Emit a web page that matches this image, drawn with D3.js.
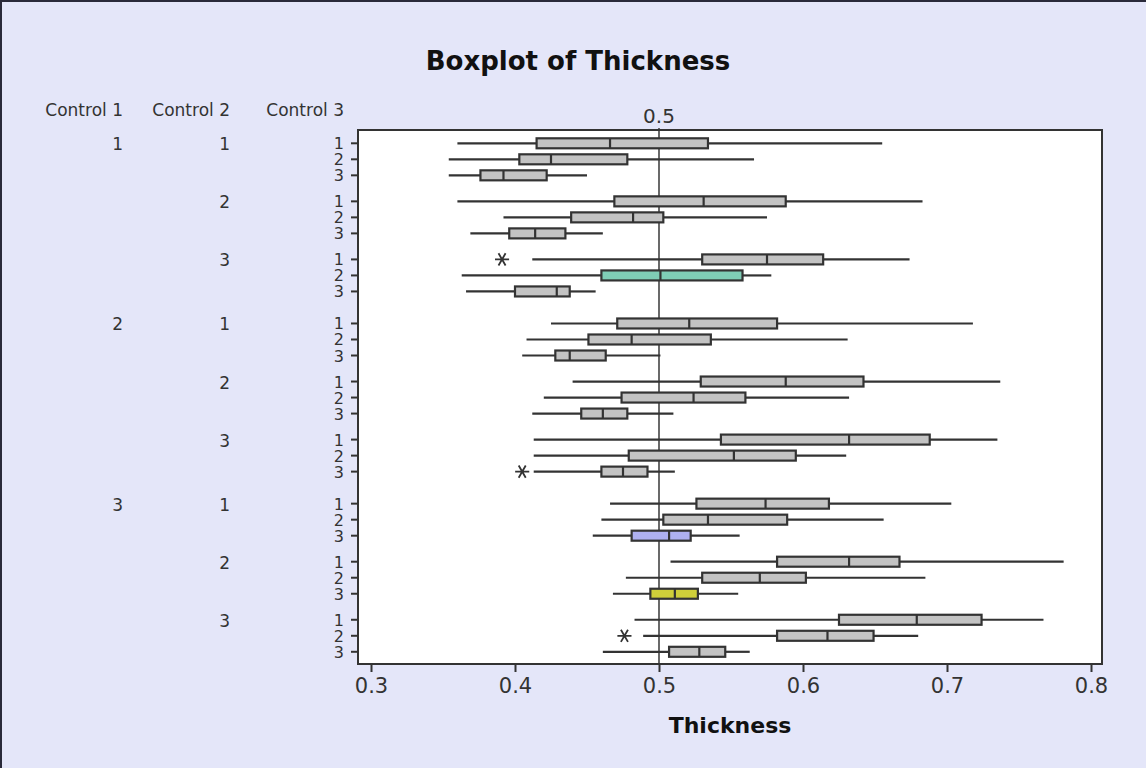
<!DOCTYPE html>
<html>
<head>
<meta charset="utf-8">
<script src="https://cdn.jsdelivr.net/npm/d3@7"></script>
<style>
  html, body { margin: 0; padding: 0; background: #e4e6f9; }
  svg { display: block; font-family: "DejaVu Sans", Verdana, sans-serif; }
</style>
</head>
<body>
<svg id="chart" width="1146" height="768"></svg>
<script>
// factor levels
var control1Levels = ['1', '2', '3'];
var control2Levels = ['1', '2', '3'];
var control3Levels = ['1', '2', '3'];
var xTicks = [0.3, 0.4, 0.5, 0.6, 0.7, 0.8];
var refValue = 0.5;

// box statistics, one entry per (control1, control2, control3) row, top to bottom
var whiskerLow  = [0.360, 0.354, 0.354, 0.360, 0.392, 0.369, 0.412, 0.363, 0.366,
                   0.425, 0.408, 0.405, 0.440, 0.420, 0.412, 0.413, 0.413, 0.413,
                   0.466, 0.460, 0.454, 0.508, 0.477, 0.468, 0.483, 0.489, 0.461];
var q1          = [0.415, 0.403, 0.376, 0.469, 0.439, 0.396, 0.530, 0.460, 0.400,
                   0.471, 0.451, 0.428, 0.529, 0.474, 0.446, 0.543, 0.479, 0.460,
                   0.526, 0.503, 0.481, 0.582, 0.530, 0.494, 0.625, 0.582, 0.507];
var median      = [0.466, 0.425, 0.392, 0.531, 0.482, 0.414, 0.575, 0.501, 0.429,
                   0.521, 0.481, 0.438, 0.588, 0.524, 0.461, 0.632, 0.552, 0.475,
                   0.574, 0.534, 0.507, 0.632, 0.570, 0.511, 0.679, 0.617, 0.528];
var q3          = [0.534, 0.478, 0.422, 0.588, 0.503, 0.435, 0.614, 0.558, 0.438,
                   0.582, 0.536, 0.463, 0.642, 0.560, 0.478, 0.688, 0.595, 0.492,
                   0.618, 0.589, 0.522, 0.667, 0.602, 0.527, 0.724, 0.649, 0.546];
var whiskerHigh = [0.655, 0.566, 0.450, 0.683, 0.575, 0.461, 0.674, 0.578, 0.456,
                   0.718, 0.631, 0.501, 0.737, 0.632, 0.510, 0.735, 0.630, 0.511,
                   0.703, 0.656, 0.556, 0.781, 0.685, 0.555, 0.767, 0.680, 0.563];
var outliers = [
  { row: 6, value: 0.391 },
  { row: 17, value: 0.405 },
  { row: 25, value: 0.476 }
];

// fills for the highlighted boxes (style, keyed by row)
var highlightFill = { 7: '#7fcdb6', 20: '#aeb0f0', 23: '#cfcf3a' };

var rows = [];
control1Levels.forEach(function(c1, a) {
  control2Levels.forEach(function(c2, b) {
    control3Levels.forEach(function(c3, c) {
      var i = rows.length;
      rows.push({
        i: i, c1: c1, c2: c2, c3: c3, first1: b === 0 && c === 0, first2: c === 0,
        // slot position: row steps plus gaps between groups
        slot: i + (a * 3 + b - a) * 0.625 + a * 1.0,
        low: whiskerLow[i], q1: q1[i], med: median[i], q3: q3[i], high: whiskerHigh[i]
      });
    });
  });
});

var svg = d3.select('#chart');
var plot = { left: 358, right: 1102, top: 130, bottom: 664 };
var ink = '#333';

var x = d3.scaleLinear().domain([0.3, 0.8]).range([371, 1091]);
var y = d3.scaleLinear()
  .domain([0, d3.max(rows, function(d) { return d.slot; })])
  .range([143.3, 651.8]);

// outer border (top/left)
svg.append('path')
  .attr('d', 'M1,768 L1,1 L1146,1')
  .attr('fill', 'none')
  .attr('stroke', '#2a2a3a')
  .attr('stroke-width', 2);

svg.append('text')
  .attr('x', 578)
  .attr('y', 70)
  .attr('text-anchor', 'middle')
  .attr('font-size', 26)
  .attr('font-weight', 'bold')
  .attr('fill', '#111')
  .text('Boxplot of Thickness');

svg.append('rect')
  .attr('x', plot.left)
  .attr('y', plot.top)
  .attr('width', plot.right - plot.left)
  .attr('height', plot.bottom - plot.top)
  .attr('fill', '#fff');

// reference line
svg.append('line')
  .attr('x1', x(refValue)).attr('x2', x(refValue))
  .attr('y1', plot.top - 2).attr('y2', plot.bottom)
  .attr('stroke', '#444')
  .attr('stroke-width', 1.6);

svg.append('text')
  .attr('x', x(refValue))
  .attr('y', 123)
  .attr('text-anchor', 'middle')
  .attr('font-size', 20)
  .attr('fill', '#333')
  .text(d3.format('.1f')(refValue));

var boxes = svg.append('g').classed('boxes', true);

boxes.selectAll('line.whisker-lo')
  .data(rows)
  .enter()
  .append('line')
  .classed('whisker-lo', true)
  .attr('x1', function(d) { return x(d.low); })
  .attr('x2', function(d) { return x(d.q1); })
  .attr('y1', function(d) { return y(d.slot); })
  .attr('y2', function(d) { return y(d.slot); })
  .attr('stroke', ink)
  .attr('stroke-width', 2.2);

boxes.selectAll('line.whisker-hi')
  .data(rows)
  .enter()
  .append('line')
  .classed('whisker-hi', true)
  .attr('x1', function(d) { return x(d.q3); })
  .attr('x2', function(d) { return x(d.high); })
  .attr('y1', function(d) { return y(d.slot); })
  .attr('y2', function(d) { return y(d.slot); })
  .attr('stroke', ink)
  .attr('stroke-width', 2.2);

boxes.selectAll('rect.box')
  .data(rows)
  .enter()
  .append('rect')
  .classed('box', true)
  .attr('x', function(d) { return x(d.q1); })
  .attr('y', function(d) { return y(d.slot) - 5; })
  .attr('width', function(d) { return x(d.q3) - x(d.q1); })
  .attr('height', 10)
  .attr('fill', function(d) { return highlightFill[d.i] || '#c3c3c3'; })
  .attr('stroke', ink)
  .attr('stroke-width', 2.2);

boxes.selectAll('line.median')
  .data(rows)
  .enter()
  .append('line')
  .classed('median', true)
  .attr('x1', function(d) { return x(d.med); })
  .attr('x2', function(d) { return x(d.med); })
  .attr('y1', function(d) { return y(d.slot) - 5; })
  .attr('y2', function(d) { return y(d.slot) + 5; })
  .attr('stroke', ink)
  .attr('stroke-width', 2.2);

var star = d3.symbol().type(d3.symbolAsterisk).size(140);
boxes.selectAll('path.outlier')
  .data(outliers)
  .enter()
  .append('path')
  .classed('outlier', true)
  .attr('d', star)
  .attr('transform', function(d) {
    return 'translate(' + x(d.value) + ',' + y(rows[d.row].slot) + ') rotate(90)';
  })
  .attr('fill', 'none')
  .attr('stroke', ink)
  .attr('stroke-width', 1.8);

// frame
svg.append('rect')
  .attr('x', plot.left)
  .attr('y', plot.top)
  .attr('width', plot.right - plot.left)
  .attr('height', plot.bottom - plot.top)
  .attr('fill', 'none')
  .attr('stroke', ink)
  .attr('stroke-width', 2);

// x axis
var xAxis = svg.append('g')
  .attr('transform', 'translate(0,' + plot.bottom + ')')
  .call(d3.axisBottom(x).tickValues(xTicks).tickSize(8).tickPadding(6).tickFormat(d3.format('.1f')));
xAxis.select('.domain').remove();
xAxis.selectAll('.tick line').attr('stroke', ink).attr('stroke-width', 2);
xAxis.selectAll('.tick text')
  .attr('font-size', 21)
  .attr('font-family', '"DejaVu Sans", Verdana, sans-serif')
  .attr('fill', '#333');

svg.append('text')
  .attr('x', (plot.left + plot.right) / 2)
  .attr('y', 733)
  .attr('text-anchor', 'middle')
  .attr('font-size', 22)
  .attr('font-weight', 'bold')
  .attr('fill', '#111')
  .text('Thickness');

// row labels and ticks
var labels = svg.append('g').attr('fill', '#333');

labels.selectAll('line.row-tick')
  .data(rows)
  .enter()
  .append('line')
  .classed('row-tick', true)
  .attr('x1', plot.left - 7)
  .attr('x2', plot.left)
  .attr('y1', function(d) { return y(d.slot); })
  .attr('y2', function(d) { return y(d.slot); })
  .attr('stroke', ink)
  .attr('stroke-width', 2);

labels.selectAll('text.c3')
  .data(rows)
  .enter()
  .append('text')
  .classed('c3', true)
  .attr('x', 344)
  .attr('y', function(d) { return y(d.slot) + 6; })
  .attr('text-anchor', 'end')
  .attr('font-size', 16)
  .text(function(d) { return d.c3; });

labels.selectAll('text.c2')
  .data(rows.filter(function(d) { return d.first2; }))
  .enter()
  .append('text')
  .classed('c2', true)
  .attr('x', 230)
  .attr('y', function(d) { return y(d.slot) + 7; })
  .attr('text-anchor', 'end')
  .attr('font-size', 17)
  .text(function(d) { return d.c2; });

labels.selectAll('text.c1')
  .data(rows.filter(function(d) { return d.first1; }))
  .enter()
  .append('text')
  .classed('c1', true)
  .attr('x', 123)
  .attr('y', function(d) { return y(d.slot) + 7; })
  .attr('text-anchor', 'end')
  .attr('font-size', 17)
  .text(function(d) { return d.c1; });

labels.selectAll('text.header')
  .data([['Control 1', 123], ['Control 2', 230], ['Control 3', 344]])
  .enter()
  .append('text')
  .classed('header', true)
  .attr('x', function(d) { return d[1]; })
  .attr('y', 116)
  .attr('text-anchor', 'end')
  .attr('font-size', 17)
  .text(function(d) { return d[0]; });
</script>
</body>
</html>
